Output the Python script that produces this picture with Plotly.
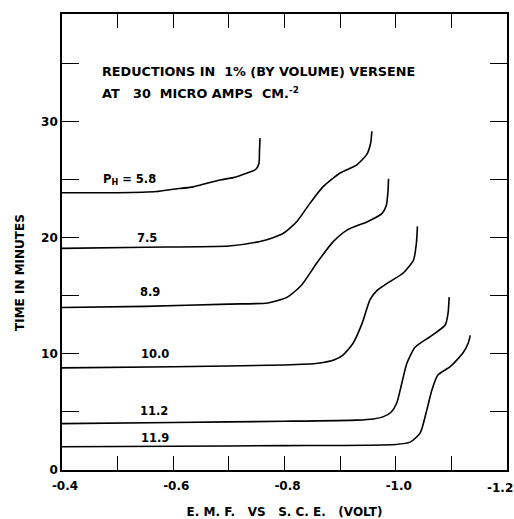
import plotly.graph_objects as go

# ---- data ----
ph_labels = ["P<sub>H</sub> = 5.8", "7.5", "8.9", "10.0", "11.2", "11.9"]

emf_58 = [-0.40, -0.50, -0.57, -0.60, -0.636, -0.684, -0.708, -0.733, -0.748, -0.754, -0.755, -0.756]
time_58 = [23.9, 23.9, 24.0, 24.2, 24.4, 25.0, 25.2, 25.6, 25.9, 26.4, 27.5, 28.6]

emf_75 = [-0.40, -0.55, -0.70, -0.756, -0.778, -0.798, -0.822, -0.846, -0.869, -0.900, -0.930, -0.948, -0.955, -0.957]
time_75 = [19.1, 19.2, 19.3, 19.7, 20.0, 20.4, 21.4, 23.0, 24.4, 25.6, 26.3, 27.2, 28.2, 29.2]

emf_89 = [-0.40, -0.55, -0.70, -0.77, -0.805, -0.83, -0.859, -0.888, -0.913, -0.949, -0.975, -0.983, -0.986, -0.987]
time_89 = [14.0, 14.1, 14.3, 14.4, 14.9, 15.9, 17.9, 19.7, 20.7, 21.4, 22.1, 22.8, 24.0, 25.1]

emf_100 = [-0.40, -0.60, -0.80, -0.86, -0.89, -0.905, -0.923, -0.94, -0.954, -0.967, -0.985, -1.014, -1.032, -1.037, -1.039]
time_100 = [8.8, 8.9, 9.05, 9.2, 9.5, 9.9, 10.9, 12.7, 14.7, 15.5, 16.1, 17.0, 18.1, 19.5, 21.0]

emf_112 = [-0.40, -0.60, -0.80, -0.93, -0.96, -0.978, -0.992, -1.002, -1.011, -1.020, -1.035, -1.062, -1.089, -1.094, -1.096]
time_112 = [4.0, 4.1, 4.2, 4.3, 4.4, 4.6, 5.0, 5.8, 7.5, 9.2, 10.6, 11.5, 12.5, 13.5, 14.9]

emf_119 = [-0.40, -0.60, -0.80, -1.00, -1.026, -1.044, -1.056, -1.065, -1.076, -1.098, -1.121, -1.130, -1.134]
time_119 = [2.0, 2.05, 2.1, 2.2, 2.4, 3.2, 5.2, 6.9, 8.2, 8.9, 10.1, 10.9, 11.6]

label_emf = [-0.522, -0.553, -0.558, -0.567, -0.566, -0.567]
label_time = [25.0, 20.0, 15.3, 10.0, 5.1, 2.75]

x_tickvals = [-0.4, -0.6, -0.8, -1.0]
x_ticktext = ["-0.4", "-0.6", "-0.8", "-1.0"]
x_edge_val = -1.2
x_edge_text = "-1.2"
x_minorvals = [-0.5, -0.7, -0.9, -1.1]
y_tickvals = [0, 10, 20, 30]
y_ticktext = ["0", "10", "20", "30"]
y_minorvals = [5, 15, 25, 35]

curves = [(emf_58, time_58), (emf_75, time_75), (emf_89, time_89),
          (emf_100, time_100), (emf_112, time_112), (emf_119, time_119)]

FONT = "DejaVu Sans"

fig = go.Figure()
for xs, ys in curves:
    fig.add_trace(go.Scatter(x=xs, y=ys, mode="lines",
                             line=dict(color="black", width=1.6, shape="spline", smoothing=0.6),
                             showlegend=False, hoverinfo="skip"))

for txt, xv, yv in zip(ph_labels, label_emf, label_time):
    fig.add_annotation(x=xv, y=yv, text=txt, showarrow=False,
                       font=dict(family=FONT, size=11.5, color="black", weight="bold"))

fig.add_annotation(xref="paper", yref="paper", x=(100 - 62) / 445, y=(470 - 71) / 456,
                   xanchor="left", yanchor="middle", showarrow=False,
                   text="REDUCTIONS IN  1% (BY VOLUME) VERSENE",
                   font=dict(family=FONT, size=12.8, color="black", weight="bold"))
fig.add_annotation(xref="paper", yref="paper", x=(100 - 62) / 445, y=(470 - 93) / 456,
                   xanchor="left", yanchor="middle", showarrow=False,
                   text="AT   30  MICRO AMPS  CM.<sup>-2</sup>",
                   font=dict(family=FONT, size=12.8, color="black", weight="bold"))

# last x tick label sits at the right edge of the page: place it flush inside
fig.add_annotation(x=x_edge_val, xref="x", yref="paper", y=0, yanchor="top",
                   xanchor="center", xshift=-7, yshift=-9, showarrow=False,
                   text=x_edge_text,
                   font=dict(family=FONT, size=12, color="black", weight="bold"))

# y title, placed as in the reference (slightly below the middle)
fig.add_annotation(xref="paper", yref="paper", x=(20 - 62) / 445, y=(470 - 273) / 456,
                   xanchor="center", yanchor="middle", showarrow=False, textangle=-90,
                   text="TIME IN MINUTES",
                   font=dict(family=FONT, size=12, color="black", weight="bold"))

axis_common = dict(showline=True, linecolor="black", linewidth=1.6, mirror="ticks",
                   ticks="inside", tickcolor="black", tickwidth=1.4,
                   showgrid=False, zeroline=False, ticklabeloverflow="allow",
                   automargin=False,
                   tickfont=dict(family=FONT, size=12, color="black", weight="bold"))

fig.update_xaxes(range=[-0.4, -1.2], tickmode="array", tickvals=x_tickvals,
                 ticktext=x_ticktext, ticklen=14, ticklabelstandoff=4, ticklabelshift=-3,
                 minor=dict(tickmode="array", tickvals=x_minorvals, ticks="inside",
                            ticklen=14, tickwidth=1.4, tickcolor="black", showgrid=False),
                 title=dict(text="E. M. F.   VS   S. C. E.   (VOLT)", standoff=16,
                            font=dict(family=FONT, size=12, color="black", weight="bold")),
                 **axis_common)
fig.update_yaxes(range=[0, 39.3], tickmode="array", tickvals=y_tickvals,
                 ticktext=y_ticktext, ticklen=17,
                 minor=dict(tickmode="array", tickvals=y_minorvals, ticks="inside",
                            ticklen=17, tickwidth=1.4, tickcolor="black", showgrid=False),
                 **axis_common)

fig.update_layout(width=514, height=519,
                  margin=dict(l=62, r=7, t=14, b=49, autoexpand=False),
                  paper_bgcolor="white", plot_bgcolor="white")

fig.write_html("out.html")
